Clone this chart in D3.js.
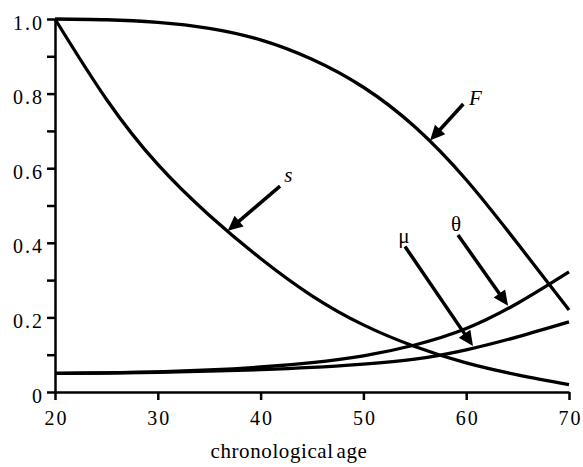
<!DOCTYPE html>
<html>
<head>
<meta charset="utf-8">
<script src="https://cdn.jsdelivr.net/npm/d3@7"></script>
<style>
  html, body { margin: 0; padding: 0; background: #fff; }
  svg { display: block; }
</style>
</head>
<body>
<svg id="chart" width="583" height="467"></svg>
<script>
// ---- data ----
const ages = [20, 25, 30, 35, 40, 45, 50, 55, 60, 65, 70];
const F     = [1.000, 0.998, 0.991, 0.975, 0.944, 0.892, 0.817, 0.711, 0.569, 0.398, 0.220];
const s     = [1.000, 0.785, 0.610, 0.474, 0.358, 0.258, 0.180, 0.122, 0.078, 0.046, 0.020];
const theta = [0.050, 0.0515, 0.054, 0.059, 0.067, 0.079, 0.097, 0.126, 0.170, 0.238, 0.322];
const mu    = [0.050, 0.051, 0.053, 0.056, 0.060, 0.066, 0.075, 0.088, 0.113, 0.148, 0.188];
const xTicks = [20, 30, 40, 50, 60, 70];
const yTicks = [0, 0.1, 0.2, 0.3, 0.4, 0.5, 0.6, 0.7, 0.8, 0.9, 1.0];
const yLabels = ["0", "", "0.2", "", "0.4", "", "0.6", "", "0.8", "", "1.0"];
const xTitle = "chronological age";
// annotation labels
const annLabels = ["F", "s", "θ", "μ"];
const annItalic = [true, true, false, false];
const annLabelPos = [[60.9, 0.769], [42.7, 0.563], [59.0, 0.432], [53.95, 0.399]];
const annTail = [[59.72, 0.772], [41.89, 0.552], [59.2, 0.421], [54.05, 0.390]];
const annTip  = [[56.48, 0.674], [36.8, 0.432], [64.07, 0.231], [60.66, 0.123]];

// ---- layout ----
const W = 583, H = 467;
const margin = {left: 55, right: 14, top: 19, bottom: 75};
const svg = d3.select("#chart");
const x = d3.scaleLinear().domain([20, 70]).range([margin.left, W - margin.right]);
const y = d3.scaleLinear().domain([0, 1]).range([H - margin.bottom, margin.top]);
const FONT = "Liberation Serif";

// axes
const xAxis = d3.axisBottom(x).tickValues(xTicks).tickFormat(d3.format("d")).tickSize(8).tickSizeOuter(0);
const yAxis = d3.axisLeft(y).tickValues(yTicks).tickFormat((d, i) => yLabels[i]).tickSize(8).tickSizeOuter(0);

const gx = svg.append("g").attr("transform", `translate(0,${y(0)})`).call(xAxis);
const gy = svg.append("g").attr("transform", `translate(${x(20)},0)`).call(yAxis);
[gx, gy].forEach(g => {
  g.attr("font-family", FONT).attr("font-size", 20);
  g.select(".domain").attr("stroke", "#000").attr("stroke-width", 2.5);
  g.selectAll(".tick line").attr("stroke", "#000").attr("stroke-width", 2.5);
  g.selectAll(".tick text").attr("fill", "#000")
    .style("font-family", FONT).style("font-size", "20px").style("letter-spacing", "2px");
});
gx.selectAll(".tick text").attr("dy", "0").attr("y", 33).attr("x", 1);
gy.selectAll(".tick text").attr("x", -11).attr("dy", "0.5em");

svg.append("text")
  .attr("x", 289)
  .attr("y", 458)
  .attr("text-anchor", "middle")
  .style("font-family", FONT)
  .style("font-size", "21px")
  .style("letter-spacing", "0.6px")
  .style("word-spacing", "-3px")
  .attr("fill", "#000")
  .text(xTitle);

// curves
const line = d3.line()
  .x((d, i) => x(ages[i]))
  .y(d => y(d))
  .curve(d3.curveNatural);

[F, s, theta, mu].forEach(series => {
  svg.append("path")
    .attr("d", line(series))
    .attr("fill", "none")
    .attr("stroke", "#000")
    .attr("stroke-width", 3.3);
});

// annotations (arrows)
annLabels.forEach((lab, i) => {
  const tx = x(annTail[i][0]), ty = y(annTail[i][1]);
  const px = x(annTip[i][0]), py = y(annTip[i][1]);
  const dx = px - tx, dy = py - ty;
  const len = Math.hypot(dx, dy);
  const ux = dx / len, uy = dy / len;
  const headLen = 15, headW = 7;
  const bx = px - ux * headLen, by = py - uy * headLen;
  svg.append("line")
    .attr("x1", tx).attr("y1", ty)
    .attr("x2", bx + ux * 2).attr("y2", by + uy * 2)
    .attr("stroke", "#000").attr("stroke-width", 3.5);
  svg.append("polygon")
    .attr("points", [
      [px, py],
      [bx - uy * headW, by + ux * headW],
      [bx + uy * headW, by - ux * headW]
    ].map(p => p.join(",")).join(" "))
    .attr("fill", "#000");
  svg.append("text")
    .attr("x", x(annLabelPos[i][0]))
    .attr("y", y(annLabelPos[i][1]))
    .attr("text-anchor", "middle")
    .style("font-family", FONT)
    .style("font-size", "21px")
    .style("font-style", annItalic[i] ? "italic" : "normal")
    .attr("fill", "#000")
    .text(lab);
});
</script>
</body>
</html>
